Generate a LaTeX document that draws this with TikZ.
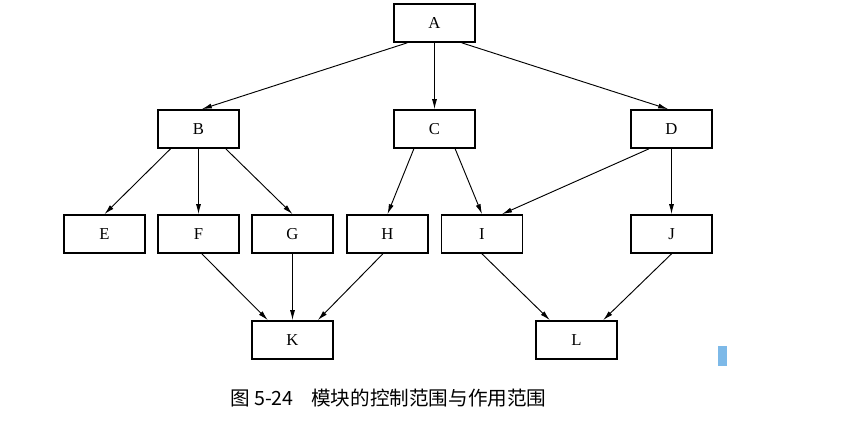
\documentclass[tikz,border=0pt]{standalone}
\usepackage{fontspec}
\setmainfont{Liberation Serif}
\newfontfamily\cjk{Noto Sans CJK SC}
\usetikzlibrary{arrows.meta}
\definecolor{markblue}{RGB}{125,185,232}
\begin{document}
\begin{tikzpicture}[x=0.75pt,y=-0.75pt,
  modbox/.style={draw,line width=1.3pt,minimum width=60.75pt,minimum height=28.5pt,
    inner sep=0pt,font=\fontsize{12.5}{14}\selectfont},
  call/.style={line width=0.7pt,-{Latex[length=7.5pt,width=3.8pt]}}]
\useasboundingbox (0,0) rectangle (846,431);
% modules
\node[modbox] (A) at (434.5,23) {A};
\node[modbox] (B) at (198.5,129) {B};
\node[modbox] (C) at (434.5,129) {C};
\node[modbox] (D) at (671.5,129) {D};
\node[modbox] (E) at (104.5,234) {E};
\node[modbox] (F) at (198.5,234) {F};
\node[modbox] (G) at (292.5,234) {G};
\node[modbox] (H) at (387.5,234) {H};
\node[modbox] (I) at (482,234) {I};
\node[modbox] (J) at (671.5,234) {J};
\node[modbox] (K) at (292.5,340) {K};
\node[modbox] (L) at (576.5,340) {L};
% calls
\draw[call] ([xshift=-20.5pt]A.south) -- ([xshift=2.5pt]B.north);
\draw[call] (A) -- (C);
\draw[call] ([xshift=20.5pt]A.south) -- ([xshift=-2.5pt]D.north);
\draw[call] ([xshift=-21pt]B.south) -- (E.north);
\draw[call] (B) -- (F);
\draw[call] ([xshift=20.5pt]B.south) -- (G.north);
\draw[call] ([xshift=-15.5pt]C.south) -- (H.north);
\draw[call] ([xshift=15.5pt]C.south) -- (I.north);
\draw[call] ([xshift=-17pt]D.south) -- ([xshift=15pt]I.north);
\draw[call] (D) -- (J);
\draw[call] ([xshift=2.5pt]F.south) -- ([xshift=-18.5pt]K.north);
\draw[call] (G) -- (K);
\draw[call] ([xshift=-3.5pt]H.south) -- ([xshift=19pt]K.north);
\draw[call] (I.south) -- ([xshift=-20pt]L.north);
\draw[call] (J.south) -- ([xshift=20pt]L.north);
% caption
\node[anchor=west,inner sep=0pt,font=\fontsize{14.7}{18}\selectfont] (cap) at (230,398)
  {\cjk 图 5-24\hspace{0.9em}模块的控制范围与作用范围};
\fill[markblue] (718,346) rectangle (727,366);
\end{tikzpicture}
\end{document}
